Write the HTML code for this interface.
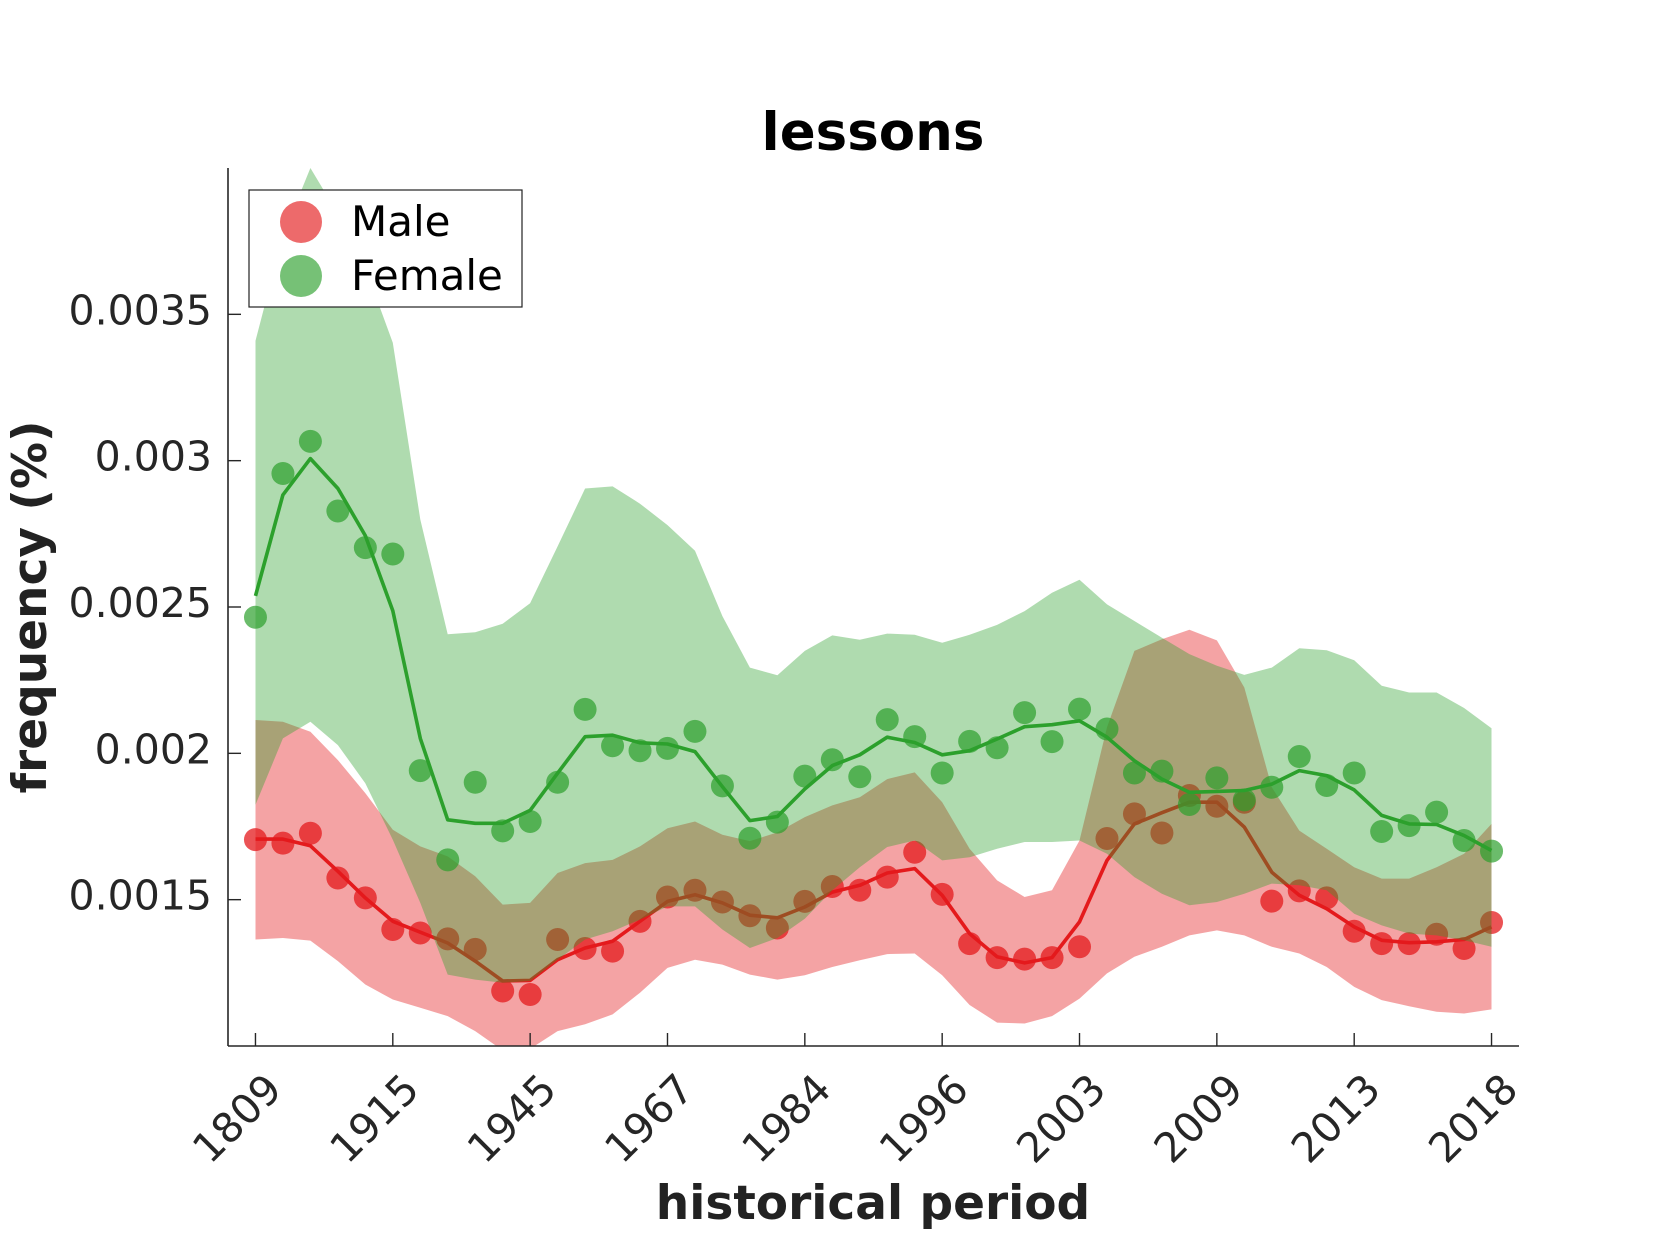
<!DOCTYPE html>
<html><head><meta charset="utf-8"><style>
html,body{margin:0;padding:0;background:#fff;}
svg{display:block;font-family:"DejaVu Sans","Liberation Sans",sans-serif;}
</style></head><body>
<svg id="chart" width="1680" height="1260" viewBox="0 0 1680 1260" xmlns="http://www.w3.org/2000/svg">
<defs><clipPath id="plotClip"><rect x="228" y="168" width="1291" height="878"/></clipPath></defs>
<text x="873" y="150" text-anchor="middle" font-size="53" font-weight="bold" fill="#000">lessons</text>
<g id="plot" clip-path="url(#plotClip)"></g>
<g id="axes"></g>
<text x="873" y="1219" text-anchor="middle" font-size="47" font-weight="bold" fill="#222">historical period</text>
<text transform="translate(46,607) rotate(-90)" text-anchor="middle" font-size="47" font-weight="bold" fill="#222">frequency (%)</text>
<g>
<rect x="249" y="190" width="273" height="117" fill="#fff" stroke="#222" stroke-width="1.2"/>
<circle cx="301" cy="222" r="21" fill="#e41a1c" fill-opacity="0.65"/>
<text x="351" y="236" font-size="42" fill="#000">Male</text>
<circle cx="301" cy="276" r="21" fill="#2ca02c" fill-opacity="0.65"/>
<text x="351" y="290" font-size="42" fill="#000">Female</text>
</g>
</svg>
<script>
// values in units of 1e-6 (frequency %)
const xTickLabels = ["1809","1915","1945","1967","1984","1996","2003","2009","2013","2018"];
const yTickValues = [0.0015,0.002,0.0025,0.003,0.0035];
const yTickLabels = ["0.0015","0.002","0.0025","0.003","0.0035"];
const maleDots = [1705,1693,1727,1574,1506,1398,1386,1366,1330,1188,1176,1364,1333,1324,1426,1509,1532,1492,1445,1403,1494,1545,1532,1577,1662,1518,1350,1302,1297,1302,1339,1709,1793,1728,1856,1819,1833,1495,1530,1506,1392,1350,1350,1382,1333,1422];
const maleLine = [1707,1707,1684,1597,1506,1426,1389,1352,1290,1222,1224,1295,1335,1358,1426,1494,1517,1489,1447,1438,1475,1526,1549,1591,1606,1515,1384,1305,1284,1302,1424,1634,1759,1797,1833,1833,1748,1594,1515,1469,1407,1361,1353,1356,1364,1407];
const maleUpper = [2114,2108,2074,1977,1864,1739,1682,1648,1580,1483,1489,1591,1625,1636,1682,1744,1767,1722,1700,1730,1782,1822,1850,1912,1935,1833,1674,1566,1509,1532,1702,2089,2350,2390,2422,2386,2225,1884,1736,1674,1611,1572,1572,1611,1657,1759];
const maleLower = [1364,1369,1360,1290,1210,1159,1131,1102,1051,985,990,1051,1074,1108,1182,1267,1295,1278,1244,1227,1242,1270,1293,1314,1316,1242,1140,1080,1077,1102,1162,1248,1305,1339,1378,1395,1378,1339,1316,1270,1202,1157,1136,1117,1111,1125];
const femaleDots = [2465,2956,3066,2828,2703,2681,1941,1636,1901,1735,1767,1901,2150,2026,2009,2017,2075,1889,1710,1765,1922,1978,1920,2115,2057,1933,2041,2019,2139,2040,2151,2083,1933,1939,1825,1916,1841,1884,1989,1890,1933,1733,1753,1799,1702,1666];
const femaleLine = [2538,2883,3007,2905,2744,2487,2051,1773,1761,1761,1805,1932,2057,2062,2036,2032,2006,1886,1770,1784,1878,1958,1995,2055,2037,1995,2009,2049,2091,2098,2111,2055,1975,1912,1867,1870,1873,1895,1941,1924,1875,1788,1759,1757,1719,1668];
const femaleUpper = [3410,3769,4000,3843,3659,3403,2799,2407,2414,2443,2513,2707,2905,2912,2853,2780,2692,2469,2293,2267,2350,2403,2388,2409,2405,2378,2405,2439,2486,2549,2593,2509,2452,2395,2339,2299,2268,2293,2359,2352,2318,2231,2208,2208,2155,2086];
const femaleLower = [1824,2051,2108,2028,1898,1705,1489,1244,1227,1216,1222,1295,1364,1392,1432,1477,1477,1398,1335,1369,1435,1532,1611,1680,1702,1634,1645,1674,1697,1697,1702,1657,1577,1520,1481,1492,1520,1555,1549,1532,1452,1412,1384,1378,1361,1339];

const L=228,R=1519,T=168,B=1046;
const xMin=-1,xMax=46,yMin=0.001,yMax=0.004;
function xs(i){return L+(i-xMin)/(xMax-xMin)*(R-L);}
function ys(v){return B-(v-yMin)/(yMax-yMin)*(B-T);}
function yu(u){return ys(u*1e-6);}
const NS="http://www.w3.org/2000/svg";
const plot=document.getElementById('plot'), axes=document.getElementById('axes');
function mk(tag,attrs,parent){const e=document.createElementNS(NS,tag);for(const k in attrs)e.setAttribute(k,attrs[k]);parent.appendChild(e);return e;}
function bandPath(up,lo){let d='';up.forEach((v,i)=>{d+=(i?'L':'M')+xs(i).toFixed(1)+','+yu(v).toFixed(1);});for(let i=lo.length-1;i>=0;i--)d+='L'+xs(i).toFixed(1)+','+yu(lo[i]).toFixed(1);return d+'Z';}
function linePath(a){return a.map((v,i)=>(i?'L':'M')+xs(i).toFixed(1)+','+yu(v).toFixed(1)).join('');}

// male
let e=mk('path',{d:bandPath(maleUpper,maleLower),fill:'#e41a1c','fill-opacity':0.4},plot);


e=mk('path',{d:linePath(maleLine),fill:'none',stroke:'#e41a1c','stroke-width':3.6,'stroke-linejoin':'round'},plot);


maleDots.forEach((v,i)=>{const c=mk('circle',{cx:xs(i),cy:yu(v),r:11.5,fill:'#e41a1c','fill-opacity':0.75},plot);

});
// female
e=mk('path',{d:bandPath(femaleUpper,femaleLower),fill:'#2ca02c','fill-opacity':0.38},plot);


e=mk('path',{d:linePath(femaleLine),fill:'none',stroke:'#2ca02c','stroke-width':3.6,'stroke-linejoin':'round'},plot);


femaleDots.forEach((v,i)=>{const c=mk('circle',{cx:xs(i),cy:yu(v),r:11.5,fill:'#2ca02c','fill-opacity':0.7},plot);

});

// axes
e=mk('line',{x1:L,y1:T,x2:L,y2:B,stroke:'#262626','stroke-width':1.6},axes);


e=mk('line',{x1:L,y1:B,x2:R,y2:B,stroke:'#262626','stroke-width':1.6},axes);


yTickValues.forEach((v,k)=>{const y=ys(v);
const t=mk('line',{x1:L,y1:y,x2:L+13,y2:y,stroke:'#262626','stroke-width':1.4},axes);


const tx=mk('text',{x:L-16,y:y+10,'text-anchor':'end','font-size':41,fill:'#262626'},axes);
tx.textContent=yTickLabels[k];

});
xTickLabels.forEach((lab,k)=>{const x=xs(k*5);
const t=mk('line',{x1:x,y1:B,x2:x,y2:B-13,stroke:'#262626','stroke-width':1.4},axes);


const tx=mk('text',{transform:'translate('+(x+7)+','+(B+24)+') rotate(-45)','text-anchor':'end','font-size':41,fill:'#262626','dominant-baseline':'hanging'},axes);
tx.textContent=lab;

});
</script>
</body></html>
